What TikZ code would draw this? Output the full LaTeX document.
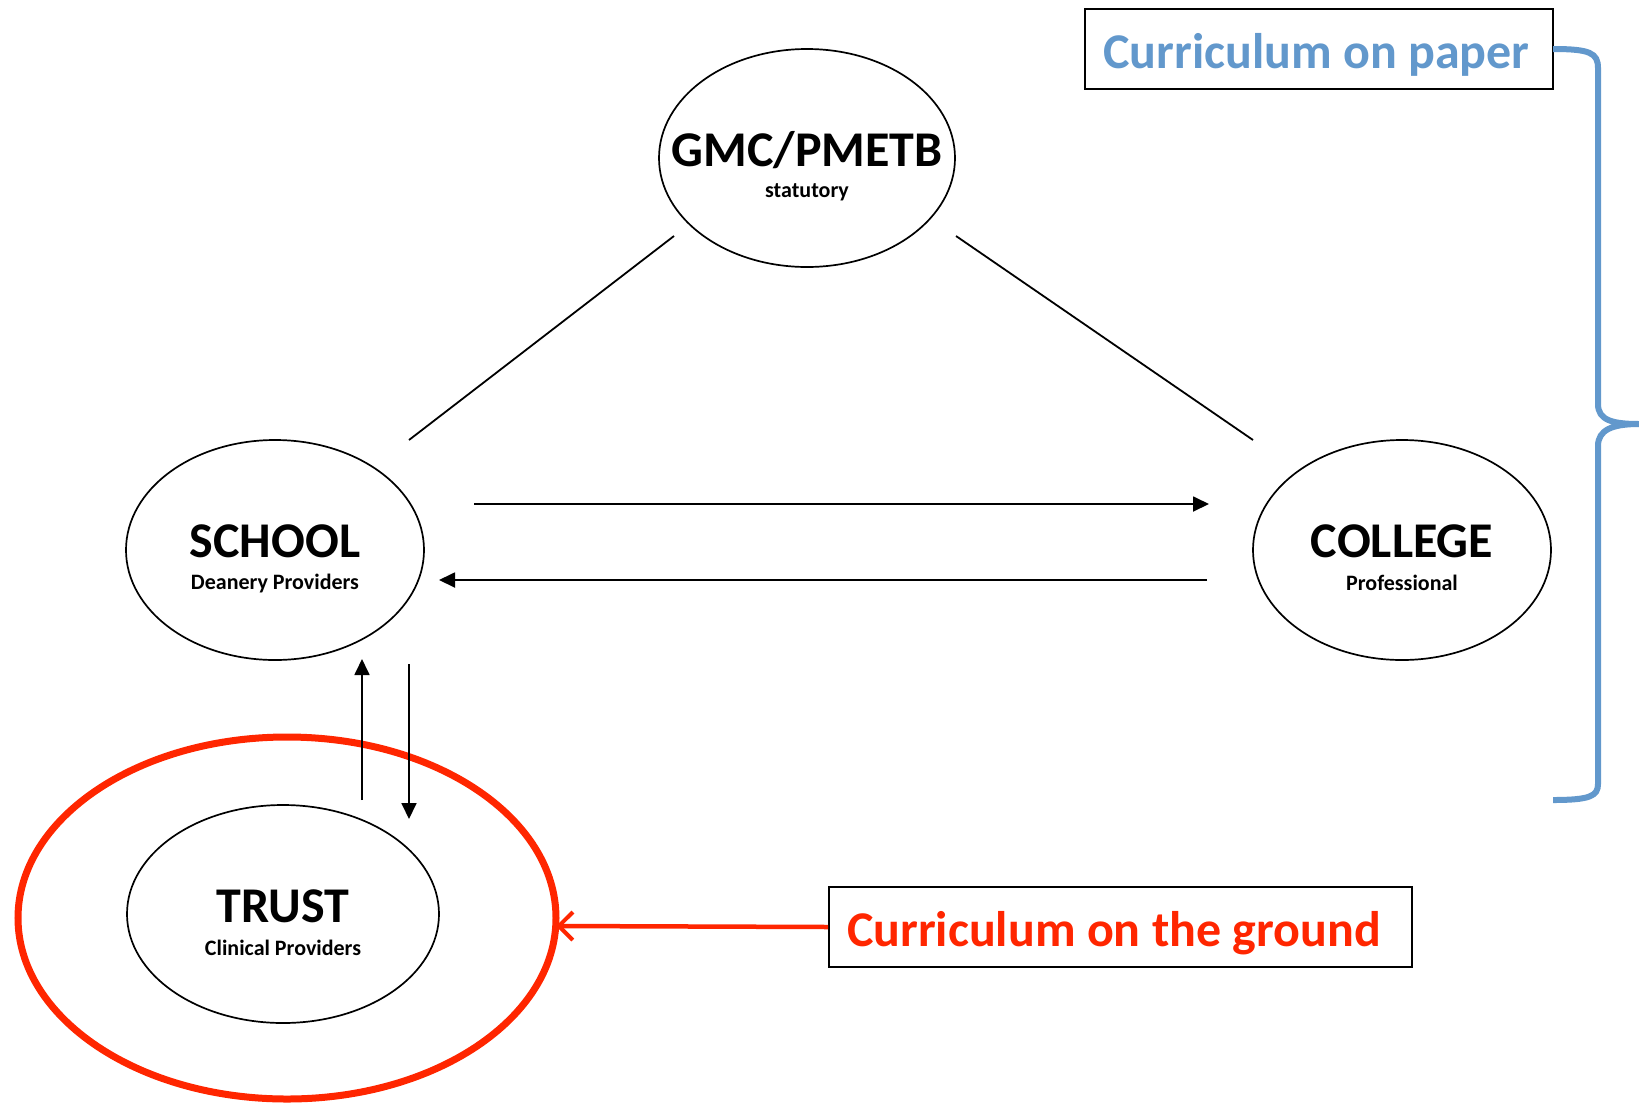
\documentclass[tikz,border=0pt]{standalone}
\usepackage{fontspec}
\setmainfont{Carlito}
\usetikzlibrary{arrows.meta,shapes.geometric}
\definecolor{paperblue}{RGB}{98,152,204}
\definecolor{groundred}{RGB}{255,38,0}
\tikzset{
  org/.style={draw=black,line width=1.7pt,ellipse,inner sep=0pt},
  title/.style={font=\fontsize{50}{60}\selectfont\bfseries,inner sep=0pt},
  sub/.style={font=\fontsize{22}{26}\selectfont\bfseries,inner sep=0pt},
  link/.style={draw=black,line width=1.8pt},
  flow/.style={draw=black,line width=1.8pt,-{Triangle[length=16pt,width=15pt]}},
  labelbox/.style={draw=black,line width=1.6pt,inner sep=0pt,minimum height=80pt},
  labeltext/.style={font=\fontsize{50}{60}\selectfont\bfseries,inner sep=0pt,anchor=base},
}
\begin{document}
\begin{tikzpicture}[x=1pt,y=-1pt]
\useasboundingbox[fill=white] (0,0) rectangle (1639,1104);
% ellipses
\node[org,minimum width=296pt,minimum height=218pt] (gmc) at (807,158) {};
\node[org,minimum width=298pt,minimum height=220pt] (school) at (275,550) {};
\node[org,minimum width=298pt,minimum height=220pt] (college) at (1402,550) {};
\node[org,minimum width=312pt,minimum height=218pt] (trust) at (283,914) {};
\node[draw=groundred,line width=7pt,ellipse,inner sep=0pt,minimum width=538pt,minimum height=362pt] (ring) at (287,918) {};
% texts
\node[title] (gmct) at (807,150) {GMC/PMETB};
\node[sub] (gmcs) at (807,192) {statutory};
\node[title] (schoolt) at (275,541) {SCHOOL};
\node[sub] (schools) at (275,583) {Deanery Providers};
\node[title] (collegett) at (1402,541) {COLLEGE};
\node[sub] (colleges) at (1402,583) {Professional};
\node[title] (trustt) at (283,906) {TRUST};
\node[sub] (trusts) at (283,948) {Clinical Providers};
% label boxes
\node[labelbox,minimum width=468pt] (paper) at (1319,49) {};
\node[labeltext,text=paperblue] (papert) at (1316.5,68) {Curriculum on paper};
\node[labelbox,minimum width=583pt] (ground) at (1120.5,927) {};
\node[labeltext,text=groundred] (groundt) at (1114,946) {Curriculum on the ground};
% connector end points
\coordinate (g1) at (674,236);
\coordinate (s1) at (409,440);
\coordinate (g2) at (956,236);
\coordinate (c1) at (1253,440);
\coordinate (sc1) at (474,504);
\coordinate (sc2) at (1209,504);
\coordinate (cs1) at (1207,580);
\coordinate (cs2) at (439,580);
\coordinate (tu1) at (362,800);
\coordinate (tu2) at (362,659);
\coordinate (td1) at (409,664);
\coordinate (td2) at (409,819);
\coordinate (rt) at (556,926);
% connectors
\draw[link] (g1) -- (s1);
\draw[link] (g2) -- (c1);
\draw[flow] (sc1) -- (sc2);
\draw[flow] (cs1) -- (cs2);
\draw[flow] (tu1) -- (tu2);
\draw[flow] (td1) -- (td2);
\draw[draw=groundred,line width=4.5pt,-{Straight Barb[length=14pt,width=28pt,line width=4pt]}] (ground.west) -- (rt);
% brace
\coordinate (bt) at (1553,49);
\coordinate (bb) at (1553,800);
\coordinate (btip) at (1639,424);
\draw[paperblue,line width=6pt,line cap=butt] (bt) .. controls (1590,49) and (1598,53) .. (1598,68) -- (1598,404) .. controls (1598,420) and (1612,424) .. (btip) .. controls (1612,424) and (1598,430) .. (1598,446) -- (1598,784) .. controls (1598,796) and (1590,800) .. (bb);
\end{tikzpicture}
\end{document}
